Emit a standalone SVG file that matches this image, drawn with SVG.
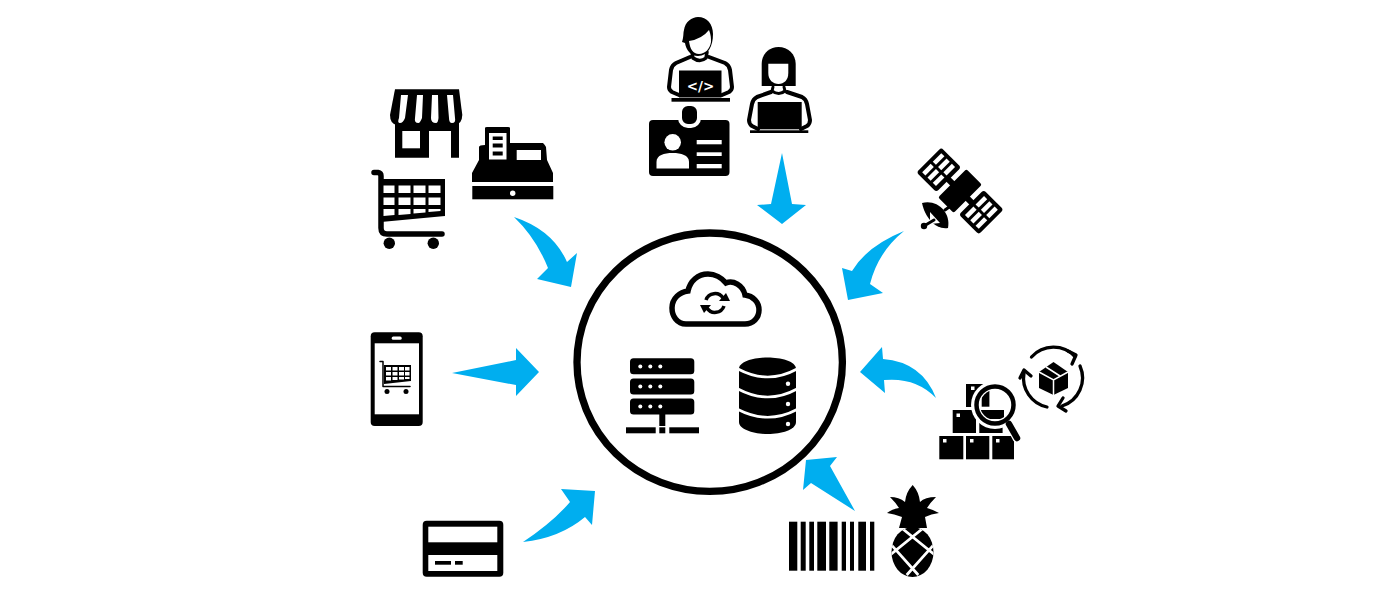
<svg xmlns="http://www.w3.org/2000/svg" width="1400" height="607" viewBox="0 0 1400 607">
<style>
.k{fill:#000}.w{fill:#fff}.a{fill:#00aeef}
.ls{fill:none;stroke:#000;stroke-linecap:round;stroke-linejoin:round}
.lw{fill:none;stroke:#fff;stroke-linecap:butt}
</style>
<defs>
<clipPath id="pc"><ellipse cx="912.500" cy="552" rx="21" ry="25"/></clipPath>
<clipPath id="mc"><circle cx="995" cy="405" r="15"/></clipPath>
</defs>
<rect width="1400" height="607" fill="#fff"/>
<g id="connectors">
<path class="a" d="M514,217Q553,230 567,262L577,253L571,287L537,279L548,268Q536,238 514,217Z"/>
<path class="a" d="M782,153L792,204L806,205L782,224L757,205L771,204Z"/>
<path class="a" d="M904,231Q867,246 852,271L842,268L848,300L883,293L870,284Q878,252 904,231Z"/>
<path class="a" d="M936,398Q922,362 883,359L882,347L860,372L885,393L884,380Q916,377 936,398Z"/>
<path class="a" d="M855,511L830,466L837,457L806,460L803,490L811,483Z"/>
<path class="a" d="M523,542Q553,522 570,502L561,489L595,491L592,525L585,517Q560,538 523,542Z"/>
<path class="a" d="M452,373L516,360V348L539,372L516,396V385Z"/>
</g>
<g id="hub"><ellipse cx="709.700" cy="362.200" rx="132.700" ry="129.200" fill="none" stroke="#000" stroke-width="7.300"/></g>
<g id="cloud">
<path d="M686,324C677,324 672,316 672,308C672,298 680,292 688,291C690,281 698,274 708,274C715,274 722,278 726,283C733,280 743,285 745,295C753,296 759,302 759,310C759,318 753,324 745,324Z" fill="#fff" stroke="#000" stroke-width="5.500"/>
<path class="ls" stroke-width="3.500" style="stroke-linecap:butt" d="M706,300A9.500,9.500 0 0 1 723,298M724,306A9.500,9.500 0 0 1 707,308"/>
<path class="k" d="M719,301L730,301L726,293ZM711,305L700,305L704,313Z"/>
</g>
<g id="server">
<rect class="k" x="630" y="358.300" width="64.300" height="16" rx="3.500"/>
<rect class="k" x="630" y="378.500" width="64.300" height="16" rx="3.500"/>
<rect class="k" x="630" y="398.600" width="64.300" height="16" rx="3.500"/>
<g class="w"><circle cx="640.300" cy="366.500" r="2"/><circle cx="650.300" cy="366.500" r="2"/><circle cx="660.300" cy="366.500" r="2"/><circle cx="640.300" cy="386.500" r="2"/><circle cx="650.300" cy="386.500" r="2"/><circle cx="660.300" cy="386.500" r="2"/><circle cx="640.300" cy="406.500" r="2"/><circle cx="650.300" cy="406.500" r="2"/><circle cx="660.300" cy="406.500" r="2"/></g>
<rect class="k" x="659.300" y="414" width="6" height="12"/>
<rect class="k" x="626" y="427.300" width="29.700" height="6"/><rect class="k" x="659.300" y="427.300" width="6" height="6"/><rect class="k" x="669.300" y="427.300" width="29.700" height="6"/>
</g>
<g id="database">
<path class="k" d="M739,369C739,361 756,357.500 768,357.500C780,357.500 796,361 796,369V422C796,430 781,434 768,434C755,434 739,430 739,422Z"/>
<path class="lw" stroke-width="2.700" d="M738,369Q768,385 797,369M738,389Q768,405 797,389M738,409.500Q768,425 797,409.500"/>
<g class="w"><circle cx="788" cy="383.700" r="2.200"/><circle cx="788" cy="404" r="2.200"/><circle cx="788" cy="424" r="2.200"/></g>
</g>
<g id="store">
<path class="k" d="M395,89.300H459L462.300,115Q462,124 455,125H397Q390,124 390,115Z"/>
<path class="k" d="M395,121H459V157.700H451V131H429V157.700H395Z"/>
<rect class="w" x="402.300" y="131" width="17.700" height="17.300"/>
<path class="w" d="M401,95H408L405,118Q403,123 400,123Q397,123 399,118ZM417,95H423L422,118Q420,123 418.500,123Q414,123 415,118ZM432,95H438L438.500,118Q438,123 436,123Q431,123 431,118ZM447,95H453L455,118Q456,123 452,123Q449,123 449,118Z"/>
</g>
<g id="register">
<path class="k" d="M472,182V173L479,160V147Q479,145 485,145V128Q485,127 487,127H508Q510,127 510,128V143H543Q545,145 546,147L547,160L553,173V182Z"/>
<rect class="k" x="472.300" y="186" width="81" height="13.300"/>
<circle class="w" cx="512.700" cy="193.300" r="2.700"/>
<rect class="w" x="489" y="133" width="17.500" height="26.500"/>
<g class="k"><rect x="492.700" y="136.500" width="10" height="3.500"/><rect x="492.700" y="143.500" width="10" height="4"/><rect x="492.700" y="151.500" width="10" height="4"/></g>
<rect class="w" x="516.700" y="150" width="24.300" height="10"/>
</g>
<g id="cart">
<path class="ls" stroke-width="5.500" d="M374,172.500H378Q381,173 381,176V228Q381,234 387,234H442"/>
<path class="k" d="M381,179H445V216L381,222Z"/>
<g class="w"><rect x="383.500" y="185.500" width="11" height="7.500"/><rect x="398.500" y="185.500" width="12" height="7.500"/><rect x="413.500" y="185.500" width="12" height="7.500"/><rect x="428.500" y="185.500" width="12" height="7.500"/><rect x="383.500" y="197.500" width="11" height="7.500"/><rect x="398.500" y="197.500" width="12" height="7.500"/><rect x="413.500" y="197.500" width="12" height="7.500"/><rect x="428.500" y="197.500" width="12" height="7.500"/><path d="M383.500,209H394.500V215L383.500,216ZM398.500,209H410.500V214L398.500,215ZM413.500,209H425.500V212.500L413.500,213.500ZM428.500,209H440.500V211L428.500,212Z"/></g>
<circle class="k" cx="389.300" cy="243.300" r="5.700"/><circle class="k" cx="433.300" cy="243.300" r="5.700"/>
</g>
<g id="developers">
<g id="dev-man">
<path class="ls" stroke-width="4" d="M690,57L676,63Q672,65 671,70L669,87Q669,90 672,92L679,95M709,57L725,63Q729,65 730,70L732,87Q732,90 729,92L722,95"/>
<path class="ls" stroke-width="3.500" d="M692,52L693,58Q700,63 706,58L707,52"/>
<path class="k" d="M682,42C684,36 683,33 684,30C685,22 692,17 698,17C707,17 713,24 713,34C713,46 708,56 698,56C691,56 686,50 685,43Z"/>
<path class="w" d="M689,41Q702,39 709,30C711,35 711,38 711,42C710,49 705,54 699,54C693,54 690,49 689,41Z"/>
<rect class="k" x="679" y="70.500" width="42.500" height="27"/>
<rect class="k" x="671.500" y="98" width="58.500" height="3.700"/>
<text x="700.500" y="90.500" text-anchor="middle" font-family="'DejaVu Sans',sans-serif" font-weight="700" font-size="13.500" fill="#fff">&lt;/&gt;</text>
</g>
<g id="dev-woman">
<path class="ls" stroke-width="4" d="M771,92L757,97Q753,99 752,104L749,120Q749,124 752,126L758,129M787,92L802,97Q806,99 807,104L810,120Q810,124 807,126L801,129"/>
<path class="k" d="M761.700,86V64C761.700,54 769,47 778.500,47C788,47 795.700,54 795.700,64V86Z"/>
<path class="w" d="M768.300,63.700H788.300V73C788.300,80 784,84 778.500,84C773,84 768.300,80 768.300,73Z"/>
<path class="ls" stroke-width="3" d="M773,87L772,91Q779,96 785,91L784,87"/>
<rect class="k" x="757.700" y="102" width="44" height="27.300"/>
<rect class="k" x="750" y="130.300" width="58.300" height="2.700"/>
</g>
<g id="badge">
<rect class="k" x="649" y="120" width="80.500" height="56" rx="4"/>
<rect class="k" x="680" y="104" width="19" height="22" rx="8" stroke="#fff" stroke-width="4"/>
<path class="k" d="M684,110Q684,107 690,107Q695,107 695,110V119Q695,122 690,122Q684,122 684,119Z"/>
<circle class="w" cx="672.700" cy="142.300" r="8.300"/>
<path class="w" d="M656.500,168.500V162C656.500,155 664,153 672.700,153C681,153 689,155 689,162V168.500Z"/>
<rect class="w" x="696.700" y="140" width="25" height="4.300"/><rect class="w" x="696.700" y="152.300" width="25" height="3.700"/><rect class="w" x="696.700" y="164" width="25" height="4.300"/>
</g>
</g>
<g id="satellite">
<g transform="translate(960,191) rotate(45)">
<rect class="k" x="-11" y="-20" width="22" height="40" rx="2"/>
<rect class="k" x="-18" y="-3" width="36" height="6"/>
<g id="panel-a"><rect class="k" x="-44" y="-17.500" width="28" height="35" rx="3"/><g class="w"><rect x="-40" y="-13.500" width="4.500" height="12"/><rect x="-32.500" y="-13.500" width="4.500" height="12"/><rect x="-25" y="-13.500" width="4.500" height="12"/><rect x="-40" y="1.500" width="4.500" height="12"/><rect x="-32.500" y="1.500" width="4.500" height="12"/><rect x="-25" y="1.500" width="4.500" height="12"/></g></g>
<g id="panel-b"><rect class="k" x="16" y="-17.500" width="28" height="35" rx="3"/><g class="w"><rect x="20.500" y="-13.500" width="4.500" height="12"/><rect x="28" y="-13.500" width="4.500" height="12"/><rect x="35.500" y="-13.500" width="4.500" height="12"/><rect x="20.500" y="1.500" width="4.500" height="12"/><rect x="28" y="1.500" width="4.500" height="12"/><rect x="35.500" y="1.500" width="4.500" height="12"/></g></g>
</g>
<path class="k" d="M922,203C937,199 951,212 948,228C936,230 925,218 922,203Z"/>
<path class="w" d="M930,212L940,223L930,224Z"/>
<circle class="k" cx="924" cy="226" r="3.200"/>
<path class="ls" stroke-width="3" d="M924,226L934,220M945,210L952,205"/>
</g>
<g id="boxes">
<rect class="k" x="966" y="384" width="17.500" height="23"/>
<rect class="k" x="952.700" y="410" width="23.300" height="23"/>
<rect class="k" x="979.300" y="410" width="23.300" height="23"/>
<rect class="k" x="939.300" y="436" width="24" height="23.300"/>
<rect class="k" x="966" y="436" width="23.300" height="23.300"/>
<path class="k" d="M992.300,436H1014V459.300H992.300Z"/>
<g class="w"><rect x="971" y="386.500" width="3.500" height="3.500"/><rect x="956.500" y="413.500" width="3.500" height="3.500"/><rect x="943" y="439" width="3.500" height="3.500"/><rect x="970" y="439" width="3.500" height="3.500"/><rect x="996" y="439" width="3.500" height="3.500"/></g>
<circle class="w" cx="995" cy="405" r="24"/>
<path d="M1009,422L1018,439" fill="none" stroke="#fff" stroke-width="10"/>
<path class="ls" stroke-width="6.500" d="M1009,424L1017,438"/>
<circle cx="995" cy="405" r="18.500" fill="#fff" stroke="#000" stroke-width="4.500"/>
<g clip-path="url(#mc)"><rect class="k" x="981.700" y="390" width="7.700" height="16.700"/><rect class="k" x="979" y="410" width="25" height="9"/></g>
</g>
<g id="logistics">
<path class="ls" stroke-width="3.300" d="M1031.500,357A29.500,29.500 0 0 1 1075,356.500"/>
<path class="ls" stroke-width="3.300" d="M1080,366A29.500,29.500 0 0 1 1062,406"/>
<path class="ls" stroke-width="3.300" d="M1047,407A29.500,29.500 0 0 1 1024,373"/>
<path class="ls" stroke-width="3.300" d="M1068,351L1076,355L1072,364M1063,398L1058,406L1066,411M1020,378L1024,370L1031,376"/>
<path class="k" d="M1039,372L1053.500,362L1068,372V388L1053.500,395L1039,388Z"/>
<path class="lw" stroke-width="1.500" d="M1039,372L1053.500,380L1068,372M1053.500,380V395M1046,367L1060,376"/>
</g>
<g id="barcode" class="k">
<rect x="789" y="521.700" width="8.300" height="49"/><rect x="800.700" y="521.700" width="5" height="49"/><rect x="809.300" y="521.700" width="4.700" height="49"/><rect x="817.300" y="521.700" width="8.700" height="49"/><rect x="829.300" y="521.700" width="8.300" height="49"/><rect x="841.700" y="521.700" width="4.300" height="49"/><rect x="850" y="521.700" width="4" height="49"/><rect x="858.300" y="521.700" width="7.700" height="49"/><rect x="870" y="521.700" width="4.300" height="49"/>
</g>
<g id="pineapple">
<path class="k" d="M912.700,485Q919,492 920,502Q925,497 936,497Q930,503 927,508Q934,510 939,513Q931,514 925,517L927,528H899L902,517Q894,514 887,513Q892,509 899,508Q896,503 890,497Q899,497 905,502Q906,492 912.700,485Z"/>
<ellipse class="k" cx="912.500" cy="552" rx="21" ry="25"/>
<g clip-path="url(#pc)"><path class="lw" stroke-width="2.700" d="M900,526.700L935,555M890,543.300L918.300,575M925,526.700L890,555M935,543.300L906.700,575"/></g>
</g>
<g id="card">
<rect class="k" x="422.700" y="520.700" width="80.600" height="56" rx="4"/>
<rect class="w" x="428.300" y="526.700" width="69" height="15.600"/>
<rect class="w" x="428.300" y="555" width="69" height="16"/>
<rect class="k" x="435" y="561" width="16" height="3.700"/><rect class="k" x="455" y="561" width="7.700" height="3.700"/>
</g>
<g id="phone">
<rect class="k" x="370.700" y="332.300" width="52" height="93.700" rx="4"/>
<rect class="w" x="374.700" y="343.300" width="44.300" height="71"/>
<rect class="w" x="391.700" y="336.500" width="10" height="3.300" rx="1.600"/>
<path class="ls" stroke-width="1.500" d="M380,361.500H383V386.500H410"/>
<path class="k" d="M384,365H411V381L384,384Z"/>
<g class="w"><rect x="386" y="367" width="5" height="3.500"/><rect x="392.500" y="367" width="5" height="3.500"/><rect x="399" y="367" width="5" height="3.500"/><rect x="405" y="367" width="4.500" height="3.500"/><rect x="386" y="372" width="5" height="3.500"/><rect x="392.500" y="372" width="5" height="3.500"/><rect x="399" y="372" width="5" height="3.500"/><rect x="405" y="372" width="4.500" height="3.500"/><rect x="386" y="377" width="5" height="3.500"/><rect x="392.500" y="377" width="5" height="3"/><rect x="399" y="377" width="5" height="2.500"/><rect x="405" y="377" width="4.500" height="2"/></g>
<circle class="k" cx="387" cy="391.500" r="2.500"/><circle class="k" cx="406" cy="391.500" r="2.500"/>
</g>
</svg>
